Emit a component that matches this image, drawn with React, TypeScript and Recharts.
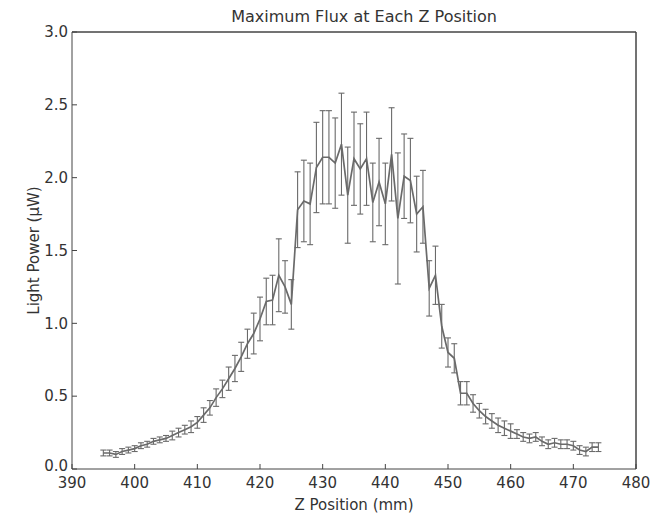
import { LineChart, Line, XAxis, YAxis, ErrorBar, Label, ReferenceLine } from "recharts"

// z position (mm)
const zPos = [
  395, 396, 397, 398, 399, 400, 401, 402, 403, 404, 405, 406, 407, 408, 409, 410,
  411, 412, 413, 414, 415, 416, 417, 418, 419, 420, 421, 422, 423, 424, 425, 426,
  427, 428, 429, 430, 431, 432, 433, 434, 435, 436, 437, 438, 439, 440, 441, 442,
  443, 444, 445, 446, 447, 448, 449, 450, 451, 452, 453, 454, 455, 456, 457, 458,
  459, 460, 461, 462, 463, 464, 465, 466, 467, 468, 469, 470, 471, 472, 473, 474,
]

// light power (uW)
const power = [
  0.11, 0.11, 0.1, 0.12, 0.13, 0.14, 0.16, 0.17, 0.19, 0.2, 0.21, 0.23, 0.25, 0.27, 0.29, 0.32,
  0.37, 0.42, 0.49, 0.55, 0.62, 0.69, 0.77, 0.86, 0.93, 1.03, 1.15, 1.16, 1.33, 1.25, 1.13, 1.78,
  1.84, 1.82, 2.07, 2.14, 2.14, 2.1, 2.23, 1.88, 2.13, 2.06, 2.13, 1.83, 1.97, 1.82, 2.16, 1.72,
  2.01, 1.98, 1.75, 1.8, 1.24, 1.33, 0.98, 0.8, 0.76, 0.52, 0.52, 0.45, 0.4, 0.36, 0.33, 0.3,
  0.28, 0.26, 0.24, 0.22, 0.21, 0.22, 0.19, 0.17, 0.18, 0.17, 0.17, 0.16, 0.13, 0.12, 0.15, 0.15,
]

// +/- error
const powerErr = [
  0.02, 0.02, 0.02, 0.02, 0.02, 0.02, 0.02, 0.02, 0.02, 0.02, 0.02, 0.03, 0.03, 0.03, 0.04, 0.04,
  0.05, 0.05, 0.06, 0.06, 0.08, 0.09, 0.1, 0.1, 0.14, 0.15, 0.16, 0.17, 0.25, 0.18, 0.17, 0.26,
  0.28, 0.28, 0.31, 0.32, 0.32, 0.31, 0.35, 0.33, 0.32, 0.31, 0.32, 0.27, 0.3, 0.28, 0.32, 0.45,
  0.29, 0.29, 0.26, 0.25, 0.19, 0.2, 0.15, 0.1, 0.1, 0.08, 0.08, 0.06, 0.05, 0.05, 0.05, 0.05,
  0.05, 0.05, 0.03, 0.03, 0.03, 0.03, 0.03, 0.03, 0.03, 0.03, 0.03, 0.03, 0.03, 0.03, 0.03, 0.03,
]

const xTicks = [390, 400, 410, 420, 430, 440, 450, 460, 470, 480]
const yTicks = [0, 0.5, 1, 1.5, 2, 2.5, 3]

const data = zPos.map((z, i) => ({ z, power: power[i], err: powerErr[i] }))

const font = "'DejaVu Sans', sans-serif"
const frame = "#444"
const tickStyle = { fontSize: 15, fill: "#333", fontFamily: font }

// nudge the 0.0 label up a little so it clears the 390 label, as in the original
const YTick = ({ x, y, payload }: any) => (
  <text x={x} y={payload.value === 0 ? y - 3 : y} dy="0.355em" textAnchor="end" {...tickStyle}>
    {Number(payload.value).toFixed(1)}
  </text>
)

export default function App() {
  return (
    <div style={{ position: "relative", width: 650, height: 515 }}>
      <style>{"body{margin:0}"}</style>
      <div
        style={{
          position: "absolute",
          left: 0,
          width: 728,
          top: 7,
          textAlign: "center",
          fontFamily: font,
          fontSize: 16,
          color: "#333",
        }}
      >
        Maximum Flux at Each Z Position
      </div>
      <LineChart width={650} height={515} data={data} margin={{ top: 31, right: 13, bottom: 0, left: 12 }}>
        <XAxis
          dataKey="z"
          type="number"
          domain={[390, 480]}
          ticks={xTicks}
          height={46}
          stroke={frame}
          tickSize={-5}
          tickMargin={13}
          tick={tickStyle}
          allowDataOverflow
        >
          <Label value="Z Position (mm)" position="insideBottom" offset={5} style={tickStyle} />
        </XAxis>
        <XAxis xAxisId="top" dataKey="z" type="number" orientation="top" domain={[390, 480]} ticks={xTicks}
          height={1} stroke={frame} tickSize={-5} tick={false} />
        <YAxis
          type="number"
          domain={[0, 3]}
          ticks={yTicks}
          width={60}
          stroke={frame}
          tickSize={-5}
          tickMargin={9}
          tick={<YTick />}
        >
          <Label value="Light Power (μW)" angle={-90} position="insideLeft" offset={22}
            style={{ ...tickStyle, textAnchor: "middle" }} />
        </YAxis>
        <YAxis yAxisId="right" orientation="right" domain={[0, 3]} ticks={yTicks} width={1}
          stroke={frame} tickSize={-5} tick={false} />
        <ReferenceLine y={3} stroke={frame} />
        <ReferenceLine x={480} stroke={frame} />
        <Line
          type="linear"
          dataKey="power"
          stroke="#6a6a6a"
          strokeWidth={1.7}
          dot={false}
          isAnimationActive={false}
        >
          <ErrorBar dataKey="err" width={3} stroke="#6a6a6a" strokeWidth={1.1} direction="y" />
        </Line>
      </LineChart>
    </div>
  )
}
